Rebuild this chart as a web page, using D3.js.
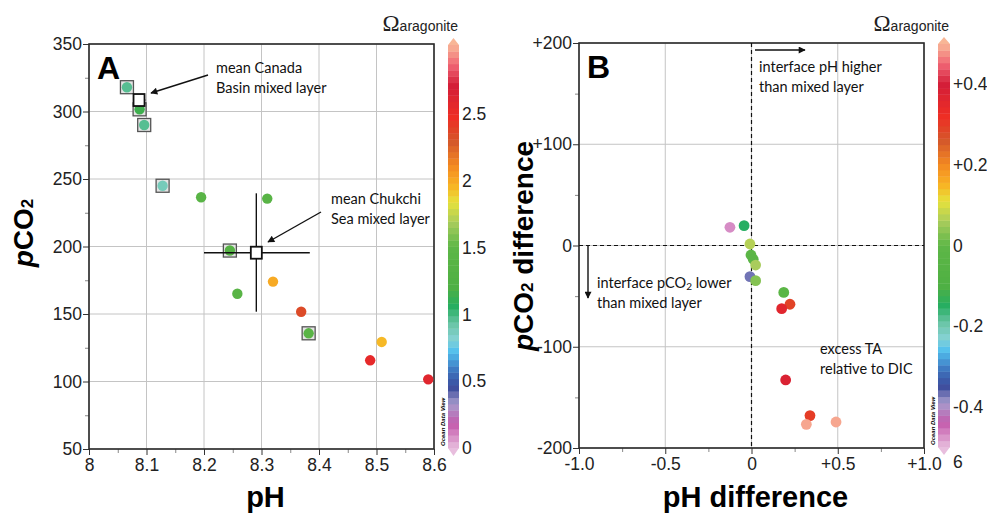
<!DOCTYPE html>
<html>
<head>
<meta charset="utf-8">
<script src="https://cdn.jsdelivr.net/npm/d3@7"></script>
<style>
  body { margin: 0; background: #fff; }
  svg { display: block; }
  .tick text { font-family: "Liberation Sans", Arial, sans-serif; }
</style>
</head>
<body>
<svg id="chart" width="987" height="513"></svg>
<script>
// panel A: surface samples, pH vs pCO2, colour = aragonite saturation
var phA    = [8.066, 8.088, 8.096, 8.128, 8.195, 8.310, 8.245, 8.258, 8.320, 8.369, 8.382, 8.509, 8.489, 8.590];
var pco2A  = [318, 301.6, 290, 245, 236.5, 235.5, 197, 165, 174, 151.7, 135.7, 129.3, 115.7, 101.6];
var omegaA = [0.97, 1.15, 0.97, 0.88, 1.4, 1.4, 1.35, 1.4, 2.0, 2.35, 1.4, 1.95, 2.55, 2.6];
var boxedA = [true, true, true, true, false, false, true, false, false, false, true, false, false, false];

// mixed layer means with ranges
var means = [
  {name: "Canada", ph: 8.087, pco2: 308.5, phLo: 8.080, phHi: 8.098, pLo: 303.5, pHi: 313},
  {name: "Chukchi", ph: 8.291, pco2: 195.4, phLo: 8.200, phHi: 8.384, pLo: 151.7, pHi: 239.4}
];

// panel B: interface minus mixed layer
var dPh    = [-0.125, -0.043, -0.009, -0.003, 0.010, 0.024, -0.009, 0.024, 0.187, 0.223, 0.175, 0.198, 0.339, 0.318, 0.490];
var dPco2  = [18, 19.6, 1.5, -9.4, -13.6, -19.3, -30.8, -34.7, -46.3, -58, -62.4, -132.8, -168, -176.6, -174.3];
var dOmega = [-0.47, -0.15, 0.07, -0.02, -0.03, 0.06, -0.37, 0.03, -0.02, 0.29, 0.36, 0.38, 0.30, 0.49, 0.49];

var xTicksA = [8, 8.1, 8.2, 8.3, 8.4, 8.5, 8.6];
var yTicksA = [50, 100, 150, 200, 250, 300, 350];
var xTicksB = [-1, -0.5, 0, 0.5, 1];
var xLabelsB = ["-1.0", "-0.5", "0", "+0.5", "+1.0"];
var yTicksB = [-200, -100, 0, 100, 200];
var yLabelsB = ["-200", "-100", "0", "+100", "+200"];
var cbTicksA = [0, 0.5, 1, 1.5, 2, 2.5];
var cbTicksB = [-0.4, -0.2, 0, 0.2, 0.4];
var cbLabelsB = ["-0.4", "-0.2", "0", "+0.2", "+0.4"];

// ODV-like palette, position 0..1 bottom to top
var palPos = [0, 0.06, 0.11, 0.15, 0.19, 0.24, 0.27, 0.31, 0.35, 0.40, 0.50, 0.56, 0.61, 0.65, 0.70, 0.76, 0.82, 0.90, 0.95, 1];
var palCol = ["#e8bede", "#c45aac", "#a79ccd", "#3c4c9c", "#3d72bd", "#52c0ee", "#86d2d4", "#68c4a4", "#26ae62", "#4fb043",
              "#5eb747", "#a9cc5c", "#e6e23c", "#f8b424", "#f48a22", "#d4582a", "#ee2e24", "#d31e38", "#f06474", "#f8b696"];
var pal = d3.scaleLinear().domain(palPos).range(palCol).clamp(true);

var svg = d3.select("#chart");
var fontSans = "'Liberation Sans', Arial, sans-serif";
var fontNote = "Lato, 'Open Sans', sans-serif";

function panel(opt) {
  var g = svg.append("g");
  var x = d3.scaleLinear().domain(opt.xDom).range([opt.left, opt.right]);
  var y = d3.scaleLinear().domain(opt.yDom).range([opt.bottom, opt.top]);

  // grid
  g.append("g").selectAll("line").data(opt.xTicks).enter().append("line")
    .attr("x1", d => x(d)).attr("x2", d => x(d))
    .attr("y1", opt.top).attr("y2", opt.bottom)
    .attr("stroke", "#c4c4c4").attr("stroke-width", 1);
  g.append("g").selectAll("line").data(opt.yTicks).enter().append("line")
    .attr("y1", d => y(d)).attr("y2", d => y(d))
    .attr("x1", opt.left).attr("x2", opt.right)
    .attr("stroke", "#c4c4c4").attr("stroke-width", 1);

  // axes with minor ticks
  var xMinor = d3.axisBottom(x).tickValues(opt.xMinor).tickSize(4).tickFormat("");
  var yMinor = d3.axisLeft(y).tickValues(opt.yMinor).tickSize(4).tickFormat("");
  g.append("g").attr("transform", "translate(0," + opt.bottom + ")").call(xMinor)
    .call(a => a.selectAll("line").attr("stroke", "#888")).call(a => a.select(".domain").remove());
  g.append("g").attr("transform", "translate(" + opt.left + ",0)").call(yMinor)
    .call(a => a.selectAll("line").attr("stroke", "#888")).call(a => a.select(".domain").remove());

  var xa = g.append("g").attr("transform", "translate(0," + opt.bottom + ")")
    .call(d3.axisBottom(x).tickValues(opt.xTicks).tickSize(6).tickPadding(4)
      .tickFormat((d, i) => opt.xLabels ? opt.xLabels[i] : d));
  var ya = g.append("g").attr("transform", "translate(" + opt.left + ",0)")
    .call(d3.axisLeft(y).tickValues(opt.yTicks).tickSize(6).tickPadding(1)
      .tickFormat((d, i) => opt.yLabels ? opt.yLabels[i] : d));
  [xa, ya].forEach(function (a) {
    a.select(".domain").remove();
    a.selectAll("line").attr("stroke", "#333");
    a.selectAll("text").attr("font-size", 17.5).attr("fill", "#222").attr("font-family", fontSans);
  });

  g.append("rect").attr("x", opt.left).attr("y", opt.top)
    .attr("width", opt.right - opt.left).attr("height", opt.bottom - opt.top)
    .attr("fill", "none").attr("stroke", "#2a2a2a").attr("stroke-width", 1.6);

  // panel letter
  g.append("text").attr("x", opt.left + 8).attr("y", opt.top + 35)
    .attr("font-family", fontSans).attr("font-weight", "bold").attr("font-size", 32)
    .text(opt.letter);

  // axis titles
  g.append("text").attr("x", (opt.left + opt.right) / 2 + 4).attr("y", 507)
    .attr("text-anchor", "middle").attr("font-family", fontSans).attr("font-weight", "bold")
    .attr("font-size", 29).text(opt.xTitle);
  var yt = g.append("text")
    .attr("transform", "translate(" + opt.yTitleX + "," + opt.yTitleY + ") rotate(-90)")
    .attr("text-anchor", "middle").attr("font-family", fontSans).attr("font-weight", "bold")
    .attr("font-size", 28);
  yt.append("tspan").attr("font-style", "italic").text("p");
  yt.append("tspan").text("CO");
  yt.append("tspan").attr("font-size", 17).text("2");
  if (opt.yTitleRest) yt.append("tspan").text(opt.yTitleRest);

  // colour bar
  var cbTop = opt.top + 1, cbBot = opt.bottom - 1;
  var cy = d3.scaleLinear().domain(opt.cbDom).range([cbBot, cbTop]);
  var nBands = 64, bh = (cbBot - cbTop) / nBands;
  var cb = g.append("g");
  cb.selectAll("rect").data(d3.range(nBands)).enter().append("rect")
    .attr("x", opt.cbX).attr("width", opt.cbW)
    .attr("y", d => cbBot - (d + 1) * bh).attr("height", bh + 0.4)
    .attr("fill", d => pal((d + 0.5) / nBands));
  cb.append("path")
    .attr("d", "M" + opt.cbX + "," + cbTop + "L" + (opt.cbX + opt.cbW / 2) + "," + (cbTop - 7) + "L" + (opt.cbX + opt.cbW) + "," + cbTop + "Z")
    .attr("fill", pal(1));
  cb.append("path")
    .attr("d", "M" + opt.cbX + "," + cbBot + "L" + (opt.cbX + opt.cbW / 2) + "," + (cbBot + 8) + "L" + (opt.cbX + opt.cbW) + "," + cbBot + "Z")
    .attr("fill", pal(0));
  cb.selectAll("text.cbl").data(opt.cbTicks).enter().append("text")
    .attr("x", opt.cbX + opt.cbW + 3).attr("y", d => cy(d) + 6)
    .attr("font-family", fontSans).attr("font-size", 17.5).attr("fill", "#222")
    .text((d, i) => opt.cbLabels ? opt.cbLabels[i] : d);
  if (opt.cbExtra) {
    cb.append("text").attr("x", opt.cbX + opt.cbW + 3).attr("y", cbBot + 21)
      .attr("font-family", fontSans).attr("font-size", 17.5).attr("fill", "#222").text(opt.cbExtra);
  }
  var ttl = g.append("text").attr("x", opt.cbX + opt.cbW - 1).attr("y", 31).attr("text-anchor", "end")
    .attr("font-family", fontSans).attr("fill", "#222");
  ttl.append("tspan").attr("font-family", "'Liberation Serif', serif").attr("font-size", 23).text("Ω");
  ttl.append("tspan").attr("font-size", 14).text("aragonite");
  g.append("text")
    .attr("transform", "translate(" + (opt.cbX - 3) + "," + (cbBot - 2) + ") rotate(-90)")
    .attr("font-family", fontSans).attr("font-size", 6).attr("font-style", "italic").attr("font-weight", "bold")
    .text("Ocean Data View");

  return {g: g, x: x, y: y, c: d3.scaleLinear().domain(opt.cbDom).range([0, 1])};
}

function arrow(g, x1, y1, x2, y2) {
  g.append("line").attr("x1", x1).attr("y1", y1).attr("x2", x2).attr("y2", y2)
    .attr("stroke", "#111").attr("stroke-width", 1.4).attr("marker-end", "url(#arr)");
}
function note(g, x0, y0, lines) {
  var t = g.append("text").attr("font-family", fontNote).attr("font-size", 14.5).attr("fill", "#111");
  lines.forEach(function (l, i) {
    t.append("tspan").attr("x", x0).attr("y", y0 + i * 20).text(l);
  });
  return t;
}

svg.append("defs").append("marker").attr("id", "arr")
  .attr("viewBox", "0 0 10 10").attr("refX", 9).attr("refY", 5)
  .attr("markerWidth", 9).attr("markerHeight", 7).attr("markerUnits", "userSpaceOnUse")
  .attr("orient", "auto").append("path").attr("d", "M0,0L10,5L0,10Z").attr("fill", "#111");

// ---------- panel A ----------
var A = panel({
  left: 89, right: 434, top: 44, bottom: 449,
  xDom: [8, 8.6], yDom: [50, 350],
  xTicks: xTicksA, yTicks: yTicksA,
  xMinor: d3.range(8.05, 8.6, 0.1), yMinor: d3.range(75, 350, 50),
  letter: "A", xTitle: "pH", yTitleX: 33, yTitleY: 233,
  cbX: 448, cbW: 11, cbDom: [0, 3.02], cbTicks: cbTicksA
});

var ptsA = d3.range(phA.length);
A.g.append("g").selectAll("rect").data(ptsA.filter(i => boxedA[i])).enter().append("rect")
  .attr("x", i => A.x(phA[i]) - 6.5).attr("y", i => A.y(pco2A[i]) - 6.5)
  .attr("width", 13).attr("height", 13)
  .attr("fill", "#e4e4e4").attr("stroke", "#555").attr("stroke-width", 1.3);
A.g.append("g").selectAll("circle").data(ptsA).enter().append("circle")
  .attr("cx", i => A.x(phA[i])).attr("cy", i => A.y(pco2A[i])).attr("r", 5.2)
  .attr("fill", i => pal(A.c(omegaA[i])));

means.forEach(function (m) {
  var mg = A.g.append("g");
  mg.append("line").attr("x1", A.x(m.phLo)).attr("x2", A.x(m.phHi))
    .attr("y1", A.y(m.pco2)).attr("y2", A.y(m.pco2)).attr("stroke", "#111").attr("stroke-width", 1.4);
  mg.append("line").attr("x1", A.x(m.ph)).attr("x2", A.x(m.ph))
    .attr("y1", A.y(m.pLo)).attr("y2", A.y(m.pHi)).attr("stroke", "#111").attr("stroke-width", 1.4);
  mg.append("rect").attr("x", A.x(m.ph) - 5.5).attr("y", A.y(m.pco2) - 6)
    .attr("width", 11).attr("height", 12)
    .attr("fill", "#fff").attr("stroke", "#111").attr("stroke-width", 1.8);
});

note(A.g, 216, 73, ["mean Canada", "Basin mixed layer"]);
arrow(A.g, 208, 75, 151, 93);
note(A.g, 331, 204, ["mean Chukchi", "Sea mixed layer"]);
arrow(A.g, 321, 212, 268, 242);

// ---------- panel B ----------
var B = panel({
  left: 579, right: 924, top: 43, bottom: 448,
  xDom: [-1, 1], yDom: [-200, 200],
  xTicks: xTicksB, xLabels: xLabelsB, yTicks: yTicksB, yLabels: yLabelsB,
  xMinor: [-0.75, -0.25, 0.25, 0.75], yMinor: [-150, -50, 50, 150],
  letter: "B", xTitle: "pH difference", yTitleX: 533, yTitleY: 246, yTitleRest: " difference",
  cbX: 938, cbW: 12, cbDom: [-0.5, 0.5], cbTicks: cbTicksB, cbLabels: cbLabelsB, cbExtra: "6"
});

B.g.append("line").attr("x1", B.x(0)).attr("x2", B.x(0)).attr("y1", 43).attr("y2", 448)
  .attr("stroke", "#111").attr("stroke-width", 1.2).attr("stroke-dasharray", "4,3");
B.g.append("line").attr("x1", 579).attr("x2", 924).attr("y1", B.y(0)).attr("y2", B.y(0))
  .attr("stroke", "#111").attr("stroke-width", 1.2).attr("stroke-dasharray", "4,3");

B.g.append("g").selectAll("circle").data(d3.range(dPh.length)).enter().append("circle")
  .attr("cx", i => B.x(dPh[i])).attr("cy", i => B.y(dPco2[i])).attr("r", 5.4)
  .attr("fill", i => pal(B.c(dOmega[i])));

arrow(B.g, 755, 50, 805, 50);
note(B.g, 759, 72, ["interface pH higher", "than mixed layer"]);
arrow(B.g, 588, 246, 588, 298);
var tB = note(B.g, 597, 288, ["interface pCO", "than mixed layer"]);
tB.select("tspan").append("tspan").attr("font-size", 10).attr("dy", 2).text("2");
tB.select("tspan").append("tspan").attr("dy", -2).text(" lower");
note(B.g, 820, 354, ["excess TA", "relative to DIC"]);
</script>
</body>
</html>
